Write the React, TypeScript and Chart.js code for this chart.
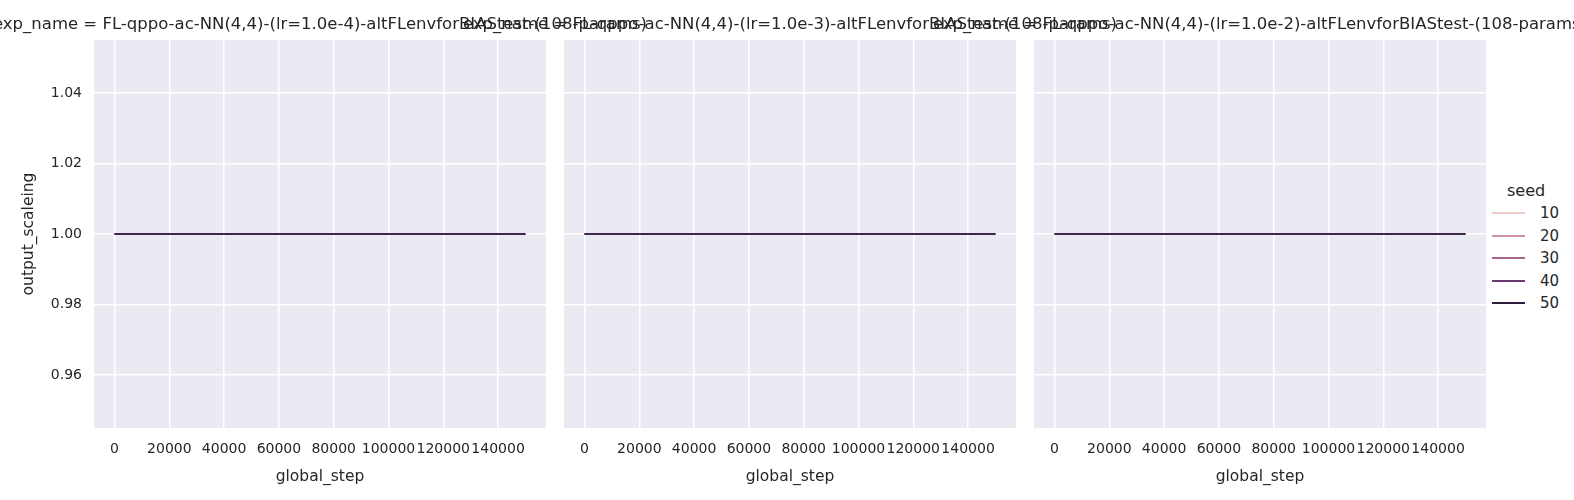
import { useEffect, useRef } from "react";
import Chart from "chart.js/auto";

const steps = [0, 15000, 30000, 45000, 60000, 75000, 90000, 105000, 120000, 135000, 150000];
const seeds = ["10", "20", "30", "40", "50"];
const seedColors = ["#ebcac6", "#cf93a5", "#a8658f", "#6d3b72", "#2d1e3e"];
const seed10 = [1, 1, 1, 1, 1, 1, 1, 1, 1, 1, 1];
const seed20 = [1, 1, 1, 1, 1, 1, 1, 1, 1, 1, 1];
const seed30 = [1, 1, 1, 1, 1, 1, 1, 1, 1, 1, 1];
const seed40 = [1, 1, 1, 1, 1, 1, 1, 1, 1, 1, 1];
const seed50 = [1, 1, 1, 1, 1, 1, 1, 1, 1, 1, 1];
const seedValues = [seed10, seed20, seed30, seed40, seed50];
const expNames = [
    "exp_name = FL-qppo-ac-NN(4,4)-(lr=1.0e-4)-altFLenvforBIAStest-(108-params)",
    "exp_name = FL-qppo-ac-NN(4,4)-(lr=1.0e-3)-altFLenvforBIAStest-(108-params)",
    "exp_name = FL-qppo-ac-NN(4,4)-(lr=1.0e-2)-altFLenvforBIAStest-(108-params)",
];
const xTicks = [0, 20000, 40000, 60000, 80000, 100000, 120000, 140000];
const yTicks = [0.96, 0.98, 1.0, 1.02, 1.04];

const FONT = "'DejaVu Sans', sans-serif";
const TEXT = "#262626";
const panelLefts = [94, 564, 1034];
const AREA_W = 452;

const bgPlugin = {
    id: "bg",
    beforeDraw(chart: any) {
        const { ctx, chartArea: a } = chart;
        ctx.save();
        ctx.fillStyle = "#eaeaf2";
        ctx.fillRect(a.left, a.top, a.right - a.left, a.bottom - a.top);
        ctx.restore();
    },
};

const Panel = ({ index }: { index: number }) => {
    const ref = useRef<HTMLCanvasElement | null>(null);

    useEffect(() => {
        if (!ref.current) return;
        const ctx = ref.current.getContext("2d");
        if (!ctx) return;
        const first = index === 0;
        const chart = new Chart(ctx, {
            type: "line",
            data: {
                labels: steps,
                datasets: seeds.map((s, i) => ({
                    label: s,
                    data: steps.map((x, j) => ({ x, y: seedValues[i][j] })),
                    borderColor: seedColors[i],
                    borderWidth: 1.5,
                    pointRadius: 0,
                    fill: false,
                    order: seeds.length - i,
                })),
            },
            options: {
                animation: false,
                responsive: false,
                layout: { padding: { top: 40, right: 2, left: 0, bottom: 0 } },
                plugins: { legend: { display: false }, tooltip: { enabled: false } },
                scales: {
                    x: {
                        type: "linear",
                        min: -7500,
                        max: 157500,
                        afterBuildTicks: (s: any) => { s.ticks = xTicks.map((v) => ({ value: v })); },
                        afterFit: (s: any) => { s.height = 72; },
                        ticks: { color: TEXT, font: { family: FONT, size: 14 }, padding: 13, maxRotation: 0, autoSkip: false, callback: (v: any) => String(v) },
                        grid: { color: "#ffffff", lineWidth: 1.5, drawTicks: false },
                        border: { display: false },
                        title: { display: true, text: "global_step", color: TEXT, font: { family: FONT, size: 15.5 }, padding: { top: 2, bottom: 14 } },
                    },
                    y: {
                        min: 0.945,
                        max: 1.055,
                        afterBuildTicks: (s: any) => { s.ticks = yTicks.map((v) => ({ value: v })); },
                        afterFit: (s: any) => { s.width = 94; },
                        ticks: { display: first, color: TEXT, font: { family: FONT, size: 14 }, padding: 12, callback: (v: any) => Number(v).toFixed(2) },
                        grid: { color: "#ffffff", lineWidth: 1.5, drawTicks: false },
                        border: { display: false },
                        title: { display: first, text: "output_scaleing", color: TEXT, font: { family: FONT, size: 15.5 }, padding: { top: 20 } },
                    },
                },
            },
            plugins: [bgPlugin],
        });
        return () => chart.destroy();
    }, [index]);

    return (
        <canvas
            ref={ref}
            width={94 + AREA_W + 2}
            height={500}
            style={{ position: "absolute", left: panelLefts[index] - 94, top: 0, width: 94 + AREA_W + 2, height: 500 }}
        />
    );
};

export default function App() {
    return (
        <div style={{ position: "fixed", left: 0, top: 0, width: 1574, height: 500, background: "#fff", overflow: "hidden", fontFamily: FONT, color: TEXT }}>
            {[0, 1, 2].map((i) => <Panel key={i} index={i} />)}
            {expNames.map((t, i) => (
                <div key={t} style={{ position: "absolute", left: panelLefts[i] + AREA_W / 2 - 500, width: 1000, top: 14, textAlign: "center", fontSize: 16.5, whiteSpace: "nowrap" }}>{t}</div>
            ))}
            <div style={{ position: "absolute", left: 1492, top: 181, fontSize: 16 }}>
                <div style={{ marginLeft: 15, marginBottom: 2 }}>seed</div>
                {seeds.map((s, i) => (
                    <div key={s} style={{ display: "flex", alignItems: "center", height: 22.5, fontSize: 15 }}>
                        <span style={{ display: "inline-block", width: 33, height: 2, background: seedColors[i], marginRight: 15 }} />
                        {s}
                    </div>
                ))}
            </div>
        </div>
    );
}
